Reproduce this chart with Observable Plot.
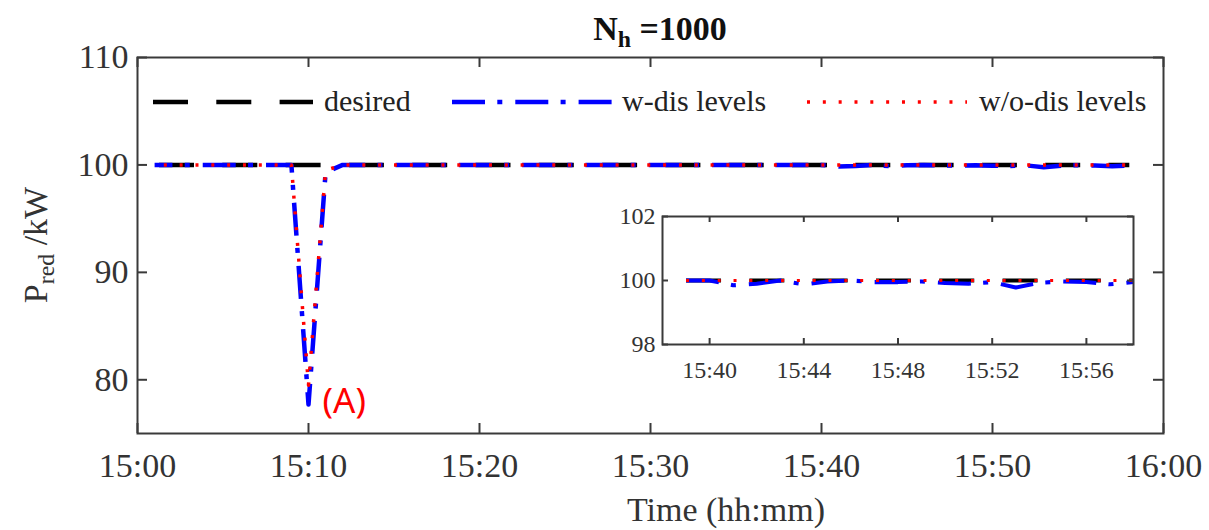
<!DOCTYPE html>
<html>
<head>
<meta charset="utf-8">
<script src="https://cdn.jsdelivr.net/npm/d3@7"></script>
<script src="https://cdn.jsdelivr.net/npm/@observablehq/plot@0.6"></script>
<style>
  html, body { margin: 0; padding: 0; background: #fff; }
  #wrap { position: relative; width: 1209px; height: 530px; overflow: hidden; background: #fff;
          font-family: "Liberation Serif", "Times New Roman", serif; color: #333; }
  #wrap svg { position: absolute; }
  .ovl { position: absolute; white-space: nowrap; }
  sub { font-size: 0.7em; vertical-align: baseline; position: relative; top: 0.3em; }
</style>
</head>
<body>
<div id="wrap"></div>
<script>
// ---------- data ----------
// sample minutes after 15:00 (15:01 … 15:58)
const minutes = d3.range(1, 59);
const desired = [
  100,100,100,100,100,100,100,100,100,100, 100,100,100,100,100,100,100,100,100,100,
  100,100,100,100,100,100,100,100,100,100, 100,100,100,100,100,100,100,100,100,100,
  100,100,100,100,100,100,100,100,100,100, 100,100,100,100,100,100,100,100
];
const wDisLevels = [
  100,100,100,100,100,100,100,100,100,77.7, 99.3,100,100,100,100,100,100,100,100,100,
  100,100,100,100,100,100,100,100,100,100, 100,100,100,100,100,100,100,100,100,100,
  99.85,99.9,100,99.88,99.97,100,99.95,99.95,99.97,99.92, 99.9,99.95,99.78,99.93,99.97,99.95,99.88,99.95
];
const woDisLevels = [
  100,100,100,100,100,100,100,100,100,79.5, 99.5,100,100,100,100,100,100,100,100,100,
  100,100,100,100,100,100,100,100,100,100, 100,100,100,100,100,100,100,100,100,100,
  100,100,100,100,100,100,100,100,100,100, 100,100,100,100,100,100,100,100
];
const seriesLabels = ["desired", "w-dis levels", "w/o-dis levels"];
const mainXTicks = [0, 10, 20, 30, 40, 50, 60];
const mainYTicks = [80, 90, 100, 110];
const insetXTicks = [40, 44, 48, 52, 56];
const insetYTicks = [98, 100, 102];
const insetStart = 39;
const annotations = [{minute: 11, value: 78, label: "(A)"}];

// ---------- helpers ----------
const t = m => new Date(Date.UTC(2020, 0, 1, 15, m));
const fmt = d3.utcFormat("%H:%M");
const rows = minutes.map((m, i) => ({time: t(m), desired: desired[i], wdis: wDisLevels[i], wodis: woDisLevels[i]}));
const insetRows = rows.filter((r, i) => minutes[i] >= insetStart);

const styles = {
  desired: {stroke: "#000000", strokeWidth: 4.5, strokeDasharray: "35,28.3", strokeLinecap: "butt", period: 63.3},
  wdis:    {stroke: "#0000ff", strokeWidth: 4.5, strokeDasharray: "33,12.3,5,13", strokeLinecap: "butt", period: 63.3},
  wodis:   {stroke: "#ff0000", strokeWidth: 3.5, strokeDasharray: "3,12.83", strokeLinecap: "butt", period: 15.83}
};
const keys = ["desired", "wdis", "wodis"];
const frameColor = "#3a3a3a";

function chart({width, height, mL, mR, mT, mB, xDomain, yDomain, data, xTicks, yTicks, tick, fontSize, xPad, yPad, lineScale, extra = []}) {
  const fw = width - mL - mR, fh = height - mT - mB;
  const sc = s => ({stroke: s.stroke, strokeDasharray: s.strokeDasharray, strokeLinecap: s.strokeLinecap, strokeWidth: s.strokeWidth * lineScale});
  return Plot.plot({
    width, height, marginLeft: mL, marginRight: mR, marginTop: mT, marginBottom: mB,
    style: {fontFamily: '"Liberation Serif", serif', fontSize: fontSize + "px", color: "#333", background: "#fff", overflow: "visible"},
    x: {type: "utc", domain: xDomain},
    y: {domain: yDomain},
    marks: [
      ...keys.map(k => Plot.line(data, {x: "time", y: k, ...sc(styles[k])})),
      Plot.frame({stroke: frameColor, strokeWidth: 2}),
      Plot.tickX(xTicks.map(t), {x: d => d, insetTop: fh - tick, stroke: frameColor, strokeWidth: 2}),
      Plot.tickX(xTicks.map(t), {x: d => d, insetBottom: fh - tick, stroke: frameColor, strokeWidth: 2}),
      Plot.tickY(yTicks, {y: d => d, insetRight: fw - tick, stroke: frameColor, strokeWidth: 2}),
      Plot.tickY(yTicks, {y: d => d, insetLeft: fw - tick, stroke: frameColor, strokeWidth: 2}),
      Plot.axisX(xTicks.map(t), {tickSize: 0, tickPadding: xPad, tickFormat: fmt, label: null, fill: "#333"}),
      Plot.axisY(yTicks, {tickSize: 0, tickPadding: yPad, label: null, fill: "#333"}),
      ...extra
    ]
  });
}

// phase a dashed path so that its pattern starts at a given screen x
function phase(svg, key, startX) {
  const groups = svg.querySelectorAll('g[aria-label="line"]');
  const g = groups[keys.indexOf(key)];
  const path = g && g.querySelector("path");
  if (!path || !path.getTotalLength) return;
  const total = path.getTotalLength();
  let lo = 0, hi = total;
  for (let k = 0; k < 40; k++) {
    const mid = (lo + hi) / 2;
    if (path.getPointAtLength(mid).x < startX) lo = mid; else hi = mid;
  }
  const P = styles[key].period;
  const off = ((P - (lo % P)) % P + P) % P;
  path.setAttribute("stroke-dashoffset", off.toFixed(2));
}

const wrap = document.getElementById("wrap");

// main chart
const main = chart({
  width: 1209, height: 530, mL: 137, mR: 46, mT: 57, mB: 97,
  xDomain: [t(0), t(60)], yDomain: [75, 110], data: rows,
  xTicks: mainXTicks, yTicks: mainYTicks, tick: 10, fontSize: 34, xPad: 19, yPad: 9, lineScale: 1,
  extra: [
    Plot.text(annotations, {x: d => t(d.minute), y: "value", text: "label", fill: "#ff0000",
      textAnchor: "start", dx: -3, dy: 1, fontFamily: '"Noto Sans", sans-serif', fontSize: 35})
  ]
});
main.style.left = "0px"; main.style.top = "0px";
wrap.appendChild(main);
phase(main, "wdis", 458.3);
phase(main, "desired", 475);
phase(main, "wodis", 456.8);

// inset chart
const inset = chart({
  width: 545, height: 190, mL: 62, mR: 12, mT: 16, mB: 46,
  xDomain: [t(38), t(58)], yDomain: [98, 102], data: insetRows,
  xTicks: insetXTicks, yTicks: insetYTicks, tick: 6, fontSize: 24, xPad: 16, yPad: 7, lineScale: 0.9
});
inset.style.left = "600px"; inset.style.top = "200px";
wrap.appendChild(inset);

// legend
const legendPos = [
  {key: "desired", sx: 153, tx: 324},
  {key: "wdis", sx: 452, tx: 622},
  {key: "wodis", sx: 807, tx: 979}
];
legendPos.forEach((p, i) => {
  const s = styles[p.key];
  const sw = document.createElementNS("http://www.w3.org/2000/svg", "svg");
  sw.setAttribute("width", 160); sw.setAttribute("height", 12);
  sw.style.left = p.sx + "px"; sw.style.top = "96px";
  const ln = document.createElementNS("http://www.w3.org/2000/svg", "line");
  ln.setAttribute("x1", 0); ln.setAttribute("x2", 160); ln.setAttribute("y1", 6); ln.setAttribute("y2", 6);
  ln.setAttribute("stroke", s.stroke); ln.setAttribute("stroke-width", s.strokeWidth);
  ln.setAttribute("stroke-dasharray", s.strokeDasharray);
  sw.appendChild(ln);
  wrap.appendChild(sw);
  const tx = document.createElement("div");
  tx.className = "ovl";
  tx.style.left = p.tx + "px"; tx.style.top = "84px"; tx.style.fontSize = "30px"; tx.style.color = "#222";
  tx.textContent = seriesLabels[i];
  wrap.appendChild(tx);
});

// title
const title = document.createElement("div");
title.className = "ovl";
title.style.cssText = "left:660px;top:10px;transform:translateX(-50%);font-size:34px;font-weight:bold;color:#111;";
title.innerHTML = "N<sub>h</sub> =1000";
wrap.appendChild(title);

// y label
const ylab = document.createElement("div");
ylab.className = "ovl";
ylab.style.cssText = "left:36px;top:245px;transform:translate(-50%,-50%) rotate(-90deg);font-size:34px;color:#333;";
ylab.innerHTML = "P<sub>red</sub> /kW";
wrap.appendChild(ylab);

// x label
const xlab = document.createElement("div");
xlab.className = "ovl";
xlab.style.cssText = "left:726px;top:491px;transform:translateX(-50%);font-size:34px;color:#333;";
xlab.textContent = "Time (hh:mm)";
wrap.appendChild(xlab);
</script>
</body>
</html>
